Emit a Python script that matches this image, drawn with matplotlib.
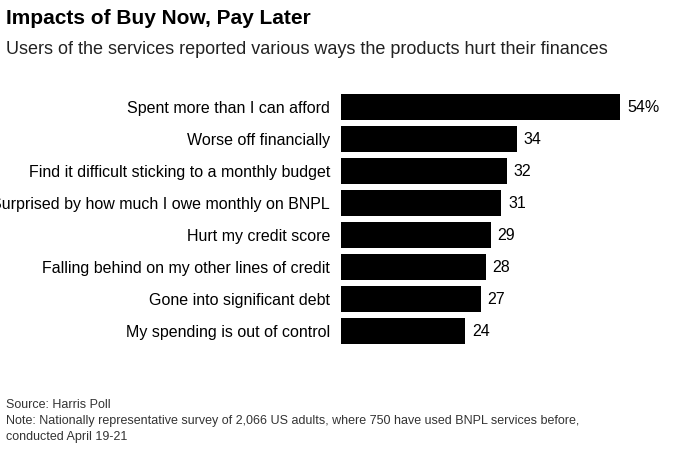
import matplotlib.pyplot as plt

categories = ["Spent more than I can afford", "Worse off financially",
              "Find it difficult sticking to a monthly budget",
              "Surprised by how much I owe monthly on BNPL", "Hurt my credit score",
              "Falling behind on my other lines of credit", "Gone into significant debt",
              "My spending is out of control"]
values = [54, 34, 32, 31, 29, 28, 27, 24]
labels = ["54%", "34", "32", "31", "29", "28", "27", "24"]

plt.rcParams['font.family'] = ['Liberation Sans', 'DejaVu Sans']
fig = plt.figure(figsize=(6.99, 4.57), dpi=100)
ax = fig.add_axes([341/699, 1-347/457, 331/699, 256/457])
y = list(range(len(values)))
ax.barh(y, values, height=0.82, color='black')
ax.set_ylim(len(values) - 0.5, -0.5)
ax.set_xlim(0, 64)
ax.set_yticks(y)
ax.set_yticklabels(categories, fontsize=11.5)
ax.tick_params(axis='y', length=0, pad=8)
ax.set_xticks([])
for s in ax.spines.values():
    s.set_visible(False)
for yi, v, l in zip(y, values, labels):
    ax.text(v + 1.3, yi, l, va='center', ha='left', fontsize=11.5)

fig.text(6/699, 1-18/457, "Impacts of Buy Now, Pay Later", fontsize=15, fontweight='bold', va='center')
fig.text(6/699, 1-50/457, "Users of the services reported various ways the products hurt their finances",
         fontsize=13, va='center', color='#222222')
fig.text(6/699, 1-405/457, "Source: Harris Poll", fontsize=9, va='center', color='#333333')
fig.text(6/699, 1-421/457, "Note: Nationally representative survey of 2,066 US adults, where 750 have used BNPL services before,",
         fontsize=9, va='center', color='#333333')
fig.text(6/699, 1-437/457, "conducted April 19-21", fontsize=9, va='center', color='#333333')
fig.savefig("out.png", dpi=100)
